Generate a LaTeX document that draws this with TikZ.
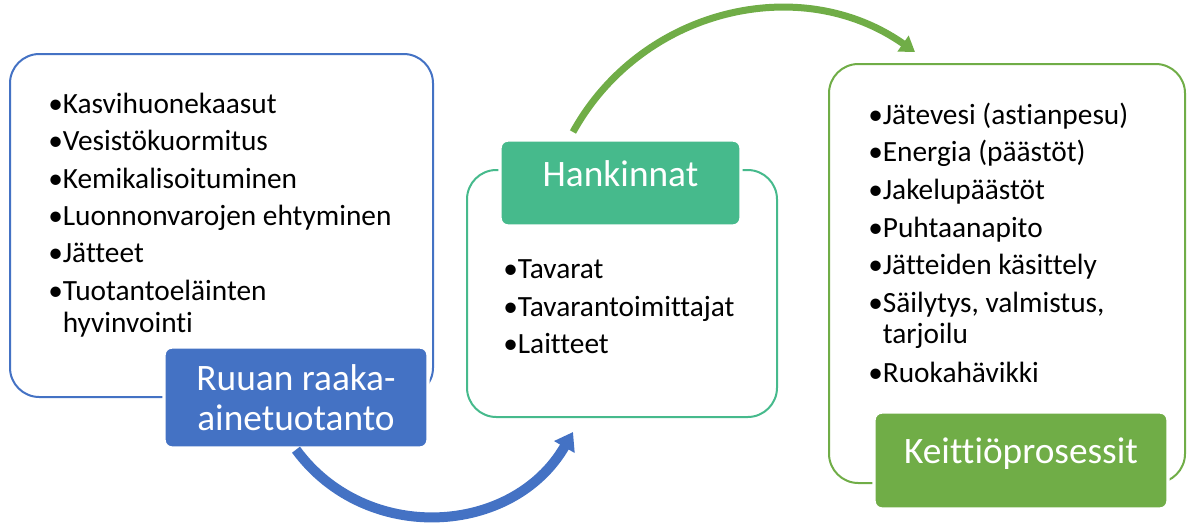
\documentclass[tikz,border=0pt]{standalone}
\usepackage{fontspec}
\setmainfont[Ligatures={NoCommon}]{Carlito}
\usetikzlibrary{arrows.meta}
\definecolor{ruuansin}{HTML}{4472C4}
\definecolor{hankvihr}{HTML}{46BA8C}
\definecolor{keitvihr}{HTML}{70AD47}
\tikzset{
  laatikko/.style={draw, line width=1.5pt, rounded corners=22pt, fill=white},
  otsikko/.style={draw=white, line width=2.5pt, rounded corners=6pt, text=white,
    font=\fontsize{28}{30}\selectfont, align=center},
  kohta/.style={anchor=base west, inner sep=0pt, font=\fontsize{22}{24}\selectfont},
  kaari/.style={line width=#1},
}
\begin{document}
\begin{tikzpicture}[x=0.75pt,y=-0.75pt]
  \useasboundingbox (0,0) rectangle (1187,522);
  % laatikot
  \node[laatikko, draw=ruuansin, minimum width=317.25pt, minimum height=257.25pt] (raaka) at (221.5,225.5) {};
  \node[laatikko, draw=hankvihr, minimum width=232.5pt, minimum height=185.25pt] (hank) at (622,293.5) {};
  \node[laatikko, draw=keitvihr, minimum width=267pt, minimum height=314.25pt] (keitto) at (1007,273.5) {};
  % otsikot
  \node[otsikko, fill=ruuansin, minimum width=198pt, minimum height=75.75pt] (raakaots) at (296,397.5) {Ruuan raaka-\\ainetuotanto};
  \node[otsikko, fill=hankvihr, minimum width=180.75pt, minimum height=64.5pt, text height=0.7em, text depth=0.2em] (hankots) at (620.5,183) {Hankinnat};
  \node[otsikko, fill=keitvihr, minimum width=220.5pt, minimum height=72.75pt, text height=0.7em, text depth=0.2em] (keittoots) at (1021,460.5) {Keittiöprosessit};
  % luettelot
  \foreach \y/\t [count=\i] in {113/•Kasvihuonekaasut, 150/•Vesistökuormitus, 188/•Kemikalisoituminen,
      225/•Luonnonvarojen ehtyminen, 262/•Jätteet, 300/•Tuotantoeläinten, 332/\phantom{•}hyvinvointi}
    \node[kohta] (r\i) at (48,\y) {\t};
  \foreach \y/\t [count=\i] in {278/•Tavarat, 316/•Tavarantoimittajat, 353/•Laitteet}
    \node[kohta] (h\i) at (503,\y) {\t};
  \foreach \y/\t [count=\i] in {124/•Jätevesi (astianpesu), 161/•Energia (päästöt), 199/•Jakelupäästöt,
      237/•Puhtaanapito, 274/•Jätteiden käsittely, 312/{•Säilytys, valmistus,},
      343/\phantom{•}tarjoilu, 382/•Ruokahävikki}
    \node[kohta] (k\i) at (868,\y) {\t};
  % nuolet
  \coordinate (hankalku) at (573,432);
  \coordinate (hankylos) at (573,132);
  \coordinate (keittoylos) at (915,52);
  \draw[ruuansin, kaari=7.5pt, -{Triangle[length=13pt,width=17pt]}]
    (raakaots.south) .. controls (366,545) and (513,536) .. (hankalku);
  \draw[keitvihr, kaari=5.25pt, -{Triangle[length=11pt,width=14pt]}]
    (hankylos) .. controls (641,9) and (800,-29) .. (keittoylos);
\end{tikzpicture}
\end{document}
